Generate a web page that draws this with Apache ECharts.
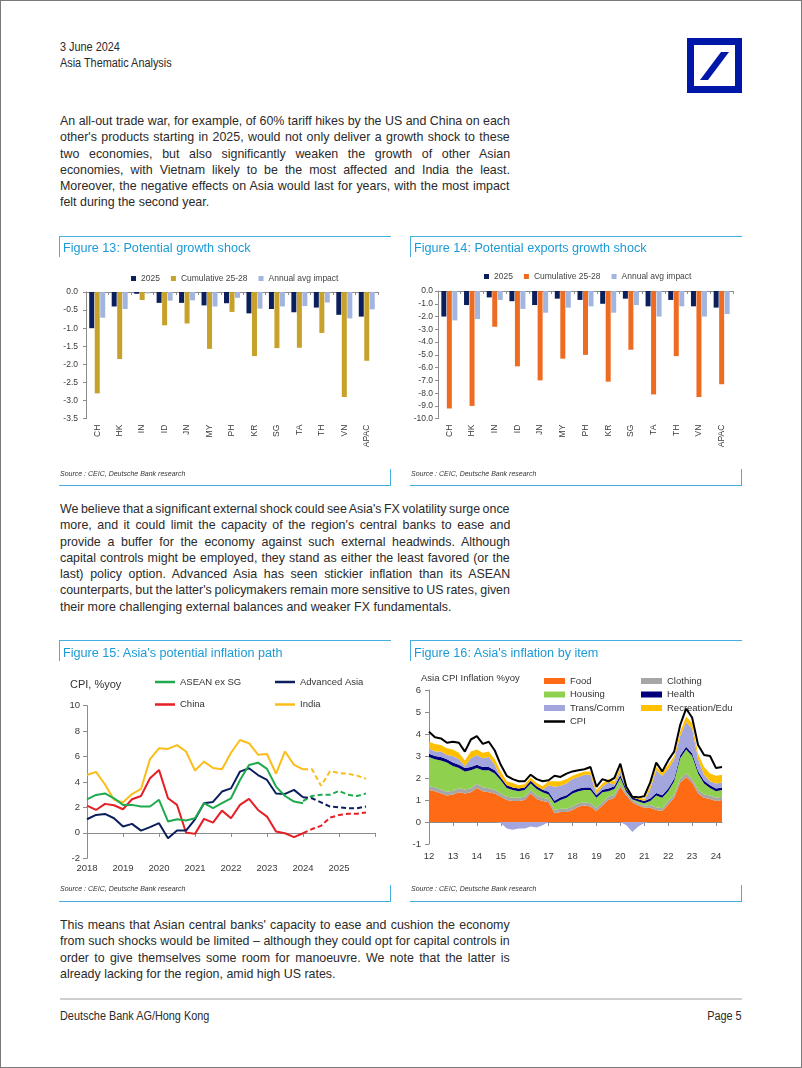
<!DOCTYPE html>
<html>
<head>
<meta charset="utf-8">
<script src="https://cdn.jsdelivr.net/npm/echarts@6/dist/echarts.min.js"></script>
<style>
html,body{margin:0;padding:0;background:#fff;}
#page{position:relative;width:802px;height:1068px;overflow:hidden;font-family:"Liberation Sans",Arial,sans-serif;color:#2a2a2a;}
#border{position:absolute;left:0;top:0;width:802px;height:1068px;box-sizing:border-box;border:1px solid #7a7a7a;}
.t{position:absolute;white-space:nowrap;font-size:12.5px;line-height:16px;transform:scaleX(0.87);transform-origin:0 0;}
.para{position:absolute;left:60px;width:450px;font-size:13px;}
.para .ln{height:16.25px;line-height:16.25px;white-space:nowrap;transform-origin:0 0;}
.ftitle{position:absolute;font-family:"Liberation Sans",Arial,sans-serif;font-size:12.65px;line-height:14px;color:#1b9ad6;white-space:nowrap;}
.src{position:absolute;font-family:"Liberation Sans",Arial,sans-serif;font-style:italic;font-size:7px;line-height:8px;color:#333;white-space:nowrap;}
.hl{position:absolute;border-top:1.5px solid #45aee0;height:0;}
.vl{position:absolute;border-left:1.5px solid #45aee0;width:0;}
.chart{position:absolute;}
</style>
</head>
<body>
<div id="page">
  <div class="t" style="left:60px;top:39px;">3 June 2024</div>
  <div class="t" style="left:60px;top:55px;">Asia Thematic Analysis</div>
  <svg style="position:absolute;left:687px;top:38px" width="55" height="55" viewBox="0 0 55 55">
    <rect x="0" y="0" width="55" height="55" fill="#0018a8"/>
    <rect x="7" y="7" width="41" height="41" fill="#fff"/>
    <polygon points="13,42 21,42 42,14 34,14" fill="#0018a8"/>
  </svg>

  <div class="para" style="top:113px;">
    <div class="ln" id="refline"><span>An all-out trade war, for example, of 60% tariff hikes by the US and China on each</span></div>
    <div class="ln"><span>other's products starting in 2025, would not only deliver a growth shock to these</span></div>
    <div class="ln"><span>two economies, but also significantly weaken the growth of other Asian</span></div>
    <div class="ln"><span>economies, with Vietnam likely to be the most affected and India the least.</span></div>
    <div class="ln"><span>Moreover, the negative effects on Asia would last for years, with the most impact</span></div>
    <div class="ln last"><span>felt during the second year.</span></div>
  </div>

  <div class="para" style="top:501px;">
    <div class="ln"><span>We believe that a significant external shock could see Asia's FX volatility surge once</span></div>
    <div class="ln"><span>more, and it could limit the capacity of the region's central banks to ease and</span></div>
    <div class="ln"><span>provide a buffer for the economy against such external headwinds. Although</span></div>
    <div class="ln"><span>capital controls might be employed, they stand as either the least favored (or the</span></div>
    <div class="ln"><span>last) policy option. Advanced Asia has seen stickier inflation than its ASEAN</span></div>
    <div class="ln"><span>counterparts, but the latter's policymakers remain more sensitive to US rates, given</span></div>
    <div class="ln last"><span>their more challenging external balances and weaker FX fundamentals.</span></div>
  </div>

  <div class="para" style="top:917px;">
    <div class="ln"><span>This means that Asian central banks' capacity to ease and cushion the economy</span></div>
    <div class="ln"><span>from such shocks would be limited – although they could opt for capital controls in</span></div>
    <div class="ln"><span>order to give themselves some room for manoeuvre. We note that the latter is</span></div>
    <div class="ln last"><span>already lacking for the region, amid high US rates.</span></div>
  </div>

  <div class="chart" id="c13" style="left:60px;top:236px;width:331px;height:249px;"></div>
  <div class="chart" id="c14" style="left:411px;top:236px;width:331px;height:249px;"></div>
  <div class="chart" id="c15" style="left:60px;top:641px;width:331px;height:260px;"></div>
  <div class="chart" id="c16" style="left:411px;top:641px;width:331px;height:260px;"></div>

  <div class="ftitle" style="left:63px;top:241px;">Figure 13: Potential growth shock</div>
  <div class="ftitle" style="left:414px;top:241px;">Figure 14: Potential exports growth shock</div>
  <div class="ftitle" style="left:63px;top:646px;">Figure 15: Asia's potential inflation path</div>
  <div class="ftitle" style="left:414px;top:646px;">Figure 16: Asia's inflation by item</div>

  <div class="src" style="left:60px;top:470px;">Source : CEIC, Deutsche Bank research</div>
  <div class="src" style="left:411px;top:470px;">Source : CEIC, Deutsche Bank research</div>
  <div class="src" style="left:60px;top:885px;">Source : CEIC, Deutsche Bank research</div>
  <div class="src" style="left:411px;top:885px;">Source : CEIC, Deutsche Bank research</div>

  <div id="boxes"></div>

  <div style="position:absolute;left:60px;top:998px;width:682px;height:2px;background:#cfcfcf;"></div>
  <div class="t" style="left:60px;top:1008px;">Deutsche Bank AG/Hong Kong</div>
  <div class="t" id="pg" style="left:742px;top:1008px;transform-origin:100% 0;">Page 5</div>
  <div id="border"></div>
</div>

<script>
// ---------------- DATA ----------------
const figCats = ['CH','HK','IN','ID','JN','MY','PH','KR','SG','TA','TH','VN','APAC'];
const barSeriesNames = ['2025','Cumulative 25-28','Annual avg impact'];
// Figure 13: growth shock
const growth2025 = [-1.0,-0.4,-0.05,-0.3,-0.3,-0.37,-0.31,-0.59,-0.47,-0.56,-0.43,-0.63,-0.68];
const growthCum  = [-2.8,-1.85,-0.22,-0.92,-0.87,-1.57,-0.55,-1.77,-1.55,-1.54,-1.13,-2.9,-1.9];
const growthAvg  = [-0.71,-0.47,-0.04,-0.24,-0.23,-0.4,-0.16,-0.46,-0.4,-0.39,-0.29,-0.73,-0.48];
// Figure 14: exports growth shock
const exports2025 = [-2.0,-1.1,-0.5,-0.8,-1.1,-0.6,-0.7,-1.0,-0.6,-1.2,-0.7,-1.2,-1.3];
const exportsCum  = [-9.2,-9.0,-2.8,-5.9,-7.0,-5.3,-5.0,-7.1,-4.6,-8.1,-5.1,-8.3,-7.3];
const exportsAvg  = [-2.3,-2.2,-0.7,-1.4,-1.7,-1.3,-1.2,-1.7,-1.1,-2.0,-1.2,-2.0,-1.8];

// Figure 15: quarterly CPI %yoy, 2018Q1..2024Q1 actual, 2024Q1..2025Q4 forecast
const inflStartYear = 2018;
const forecastStartIndex = 24;
const inflNames = ['ASEAN ex SG','Advanced Asia','China','India'];
const aseanActual = [2.64,2.98,3.1,2.72,2.2,2.2,2.07,2.07,2.6,0.9,1.07,0.97,1.15,2.33,1.94,2.33,2.72,4.16,5.34,5.52,5.03,3.64,2.9,2.46,2.33];
const aseanForecast = [2.5,2.9,3.0,3.0,3.3,3.0,2.9,3.1];
const advActual = [1.07,1.41,1.49,1.15,0.5,0.71,0.18,0.45,0.76,-0.42,0.18,0.18,1.07,2.33,2.43,3.25,3.5,4.82,5.08,4.55,4.16,3.1,3.06,3.38,2.8];
const advForecast = [2.8,2.72,2.4,2.07,2.0,1.94,1.94,2.07];
const chinaActual = [2.15,1.8,2.28,2.17,1.86,2.64,2.9,4.3,4.95,2.72,2.2,0.03,-0.08,1.1,0.8,1.75,1.15,2.2,2.67,1.8,1.28,0.1,-0.03,-0.34,-0.03];
const chinaForecast = [-0.03,0.3,0.55,1.2,1.4,1.5,1.5,1.6];
const indiaActual = [4.55,4.8,3.8,2.6,2.4,3.05,3.45,5.8,6.65,6.6,6.9,6.4,4.9,5.6,5.1,5.0,6.3,7.3,7.05,6.15,6.2,4.65,6.4,5.35,5.0];
const indiaForecast = [5.0,5.0,3.7,4.85,4.7,4.65,4.5,4.25];

// Figure 16: quarterly contributions, 2012Q1..2024Q2
const cpiStartYear = 2012;
const itemNames = ['Food','Clothing','Housing','Health','Trans/Comm','Recreation/Edu','CPI'];
const food = [1.45,1.4,1.3,1.2,1.25,1.35,1.3,1.35,1.55,1.4, 1.35,1.3,1.15,1.0,0.95,0.95,1.0,1.3,1.05,0.95, 0.9,0.4,0.45,0.45,0.55,0.7,0.75,0.7,0.5,0.75, 1.0,1.1,1.6,1.2,0.9,0.75,0.65,0.65,0.55,0.5, 0.8,1.1,1.8,2.05,1.8,1.3,1.1,1.05,0.95,1.0];
const clothing = [0.18,0.18,0.18,0.17,0.17,0.18,0.18,0.18,0.19,0.18, 0.18,0.17,0.15,0.15,0.15,0.15,0.15,0.15,0.15,0.15, 0.15,0.15,0.15,0.15,0.15,0.15,0.15,0.15,0.15,0.15, 0.15,0.15,0.12,0.12,0.1,0.1,0.1,0.12,0.12,0.12, 0.15,0.15,0.15,0.15,0.15,0.15,0.15,0.15,0.15,0.15];
const housing = [1.32,1.27,1.32,1.33,1.13,0.92,0.82,0.82,0.71,0.77, 0.82,0.73,0.6,0.4,0.35,0.3,0.3,0.3,0.3,0.25, 0.2,0.3,0.4,0.5,0.6,0.55,0.55,0.6,0.45,0.45, 0.25,0.25,0.28,0.05,0.03,0.08,0.1,0.18,0.53,0.48, 0.45,0.6,0.95,1.1,1.05,0.75,0.5,0.35,0.3,0.3];
const health = [0.15,0.15,0.15,0.15,0.15,0.15,0.15,0.15,0.15,0.15, 0.15,0.15,0.12,0.12,0.12,0.12,0.12,0.12,0.12,0.12, 0.12,0.12,0.12,0.12,0.12,0.12,0.12,0.12,0.12,0.12, 0.12,0.12,0.12,0.12,0.08,0.1,0.1,0.12,0.12,0.12, 0.12,0.12,0.12,0.12,0.12,0.12,0.12,0.12,0.12,0.12];
const transComm = [0.25,0.2,0.25,0.2,0.3,0.25,0.1,0.4,0.45,0.4, 0.45,0.25,-0.05,-0.3,-0.35,-0.3,-0.3,-0.2,-0.25,-0.15, 0.3,0.63,0.53,0.53,0.53,0.53,0.58,0.58,0.08,0.13, 0.28,0.08,0.18,-0.15,-0.45,-0.2,-0.05,0.43,1.03,0.88, 0.88,0.88,0.88,1.13,1.13,0.53,0.28,0.18,0.23,0.23];
const recEdu = [0.3,0.35,0.3,0.3,0.3,0.3,0.25,0.3,0.25,0.25, 0.25,0.25,0.28,0.18,0.2,0.15,0.15,0.15,0.15,0.15, 0.18,0.25,0.2,0.2,0.15,0.15,0.15,0.15,0.15,0.15, 0.15,0.15,0.15,0.1,0.05,0.08,0.1,0.15,0.15,0.15, 0.2,0.15,0.2,0.25,0.25,0.25,0.35,0.35,0.35,0.35];
const cpi = [4.1,3.85,3.8,3.6,3.65,3.6,3.2,3.75,3.9,3.55, 3.65,3.25,2.6,2.1,1.95,1.85,1.85,2.15,1.95,1.85, 1.9,2.1,2.05,2.2,2.3,2.35,2.4,2.5,1.6,1.95, 1.85,2.0,2.65,1.6,1.15,1.12,1.17,1.8,2.7,2.3, 2.8,3.2,4.4,5.15,4.75,3.5,3.05,3.0,2.45,2.5];

// ---------------- LAYOUT HELPERS ----------------
// horizontal scale chosen so that the first (normally spaced) line fills the 450px column
const refW = document.querySelector('#refline span').offsetWidth;
const SX = Math.min(1, 450 / refW);
document.querySelectorAll('.para .ln').forEach(d => {
  d.style.width = (450 / SX) + 'px';
  d.style.transform = 'scaleX(' + SX + ')';
  if (d.classList.contains('last')) return;
  const sp = d.firstElementChild;
  const w = sp.offsetWidth;
  const n = (sp.textContent.match(/ /g) || []).length;
  if (n > 0) d.style.wordSpacing = ((450 / SX - w) / n) + 'px';
});
const pg = document.getElementById('pg');
pg.style.left = (742 - pg.offsetWidth) + 'px';

const boxes = [[59,391,236,485],[410,742,236,485],[59,391,640,901],[410,742,640,901]];
const bx = document.getElementById('boxes');
boxes.forEach(([x1,x2,yt,yb]) => {
  bx.insertAdjacentHTML('beforeend',
    `<div class="hl" style="left:${x1}px;top:${yt}px;width:${x2-x1}px"></div>` +
    `<div class="vl" style="left:${x1}px;top:${yt}px;height:21px"></div>` +
    `<div class="hl" style="left:${x1}px;top:${yb}px;width:${x2-x1}px"></div>` +
    `<div class="vl" style="left:${x2-1.5}px;top:${yb-16}px;height:16px"></div>`);
});

// ---------------- CHARTS ----------------
const AX = '#8c8c8c', LBL = '#3a3a3a';
const FF = '"Liberation Sans", Arial, sans-serif';
const NAVY = '#0b1f5c', GOLD = '#c7a12a', LIGHT = '#a2b5df', ORANGE = '#ee6c22';

function barChart(id, cfg) {
  const ch = echarts.init(document.getElementById(id), null, {renderer:'canvas'});
  ch.setOption({
    animation:false,
    textStyle:{fontFamily:FF},
    legend:{left:cfg.legendLeft, top:cfg.legendTop, padding:0, icon:'rect', itemWidth:5, itemHeight:5, itemGap:11,
      textStyle:{fontSize:8.5, color:'#444', fontFamily:FF}, data:barSeriesNames},
    grid:{left:cfg.grid[0], top:cfg.grid[1], width:cfg.grid[2], height:cfg.grid[3], containLabel:false, outerBoundsMode:'none'},
    xAxis:{type:'category', data:figCats,
      axisLine:{onZero:true, lineStyle:{color:AX, width:1}},
      axisTick:{show:true, length:3, lineStyle:{color:AX}},
      axisLabel:{rotate:90, interval:0, margin:cfg.labelMargin, fontSize:8.5, color:LBL, fontFamily:FF}},
    yAxis:{type:'value', min:cfg.min, max:0, interval:cfg.interval,
      axisLine:{show:true, lineStyle:{color:AX}},
      axisTick:{show:true, length:3, lineStyle:{color:AX}},
      splitLine:{show:false},
      axisLabel:{formatter:v => (Math.abs(v) < 1e-9 ? 0 : v).toFixed(1), fontSize:8.5, color:LBL, margin:cfg.yMargin, fontFamily:FF}},
    series: cfg.series.map((d, i) => ({name:barSeriesNames[i], type:'bar', data:d, barWidth:5, barGap:'10%',
      itemStyle:{color:cfg.colors[i]}}))
  });
}

barChart('c13', {legendLeft:71, legendTop:38, grid:[26,56,292,126.7], labelMargin:6, min:-3.5, interval:0.5, yMargin:8,
  series:[growth2025, growthCum, growthAvg], colors:[NAVY, GOLD, LIGHT]});
barChart('c14', {legendLeft:73, legendTop:36, grid:[27,55,295,127.7], labelMargin:6, min:-10, interval:1, yMargin:5,
  series:[exports2025, exportsCum, exportsAvg], colors:[NAVY, ORANGE, LIGHT]});

// Figure 15
(function(){
  const ch = echarts.init(document.getElementById('c15'));
  const cols = ['#1faa4d', '#0b1f5c', '#e61e25', '#fbbd1a'];
  const act = [aseanActual, advActual, chinaActual, indiaActual];
  const fc = [aseanForecast, advForecast, chinaForecast, indiaForecast];
  const toPts = (arr, off) => arr.map((v, i) => [inflStartYear + (i + off) / 4, v]);
  const legPos = [[95,36],[215,36],[95,58.5],[215,58.5]];
  const series = [];
  act.forEach((a, k) => series.push({name:inflNames[k], type:'line', data:toPts(a, 0), symbol:'none',
    lineStyle:{color:cols[k], width:2}, itemStyle:{color:cols[k]}, z:10 - k}));
  fc.forEach((a, k) => series.push({name:inflNames[k] + ' forecast', type:'line', data:toPts(a, forecastStartIndex), symbol:'none',
    lineStyle:{color:cols[k], width:2, type:[5,3]}, itemStyle:{color:cols[k]}, z:5}));
  ch.setOption({
    animation:false,
    textStyle:{fontFamily:FF},
    legend: inflNames.map((n, k) => ({data:[n], left:legPos[k][0], top:legPos[k][1], padding:0, icon:'rect',
      itemWidth:20, itemHeight:2.5, textStyle:{fontSize:9.5, color:'#333', fontFamily:FF}})),
    graphic:[{type:'text', left:10, top:38, style:{text:'CPI, %yoy', fontSize:11, fill:'#333', fontFamily:FF}}],
    grid:{left:27, top:64.7, width:288, height:152.6, containLabel:false, outerBoundsMode:'none'},
    xAxis:{type:'value', min:2018, max:2026, interval:1,
      axisLine:{onZero:true, lineStyle:{color:AX}},
      axisTick:{show:true, length:4, lineStyle:{color:AX}},
      splitLine:{show:false},
      axisLabel:{margin:5, fontSize:9.5, color:LBL, fontFamily:FF, formatter:v => v >= 2026 ? '' : String(v)}},
    yAxis:{type:'value', min:-2, max:10, interval:2,
      axisLine:{show:true, lineStyle:{color:AX}},
      axisTick:{show:true, length:4, lineStyle:{color:AX}},
      splitLine:{show:false},
      axisLabel:{fontSize:9.5, color:LBL, margin:7, fontFamily:FF}},
    series
  });
})();

// Figure 16
(function(){
  const ch = echarts.init(document.getElementById('c16'));
  const cols = {Food:'#ff6a14', Clothing:'#a6a6a6', Housing:'#8fd14f', Health:'#00007a', 'Trans/Comm':'#a3a6dc', 'Recreation/Edu':'#ffc000', CPI:'#000000'};
  const quarters = food.map((_, i) => (cpiStartYear + Math.floor(i / 4)) + 'Q' + (i % 4 + 1));
  const area = (name, data, stack) => ({name, type:'line', data, stack, symbol:'none', showSymbol:false,
    lineStyle:{width:0}, areaStyle:{color:cols[name], opacity:1}, itemStyle:{color:cols[name]}});
  const transPos = transComm.map(v => Math.max(v, 0));
  const transNeg = transComm.map(v => Math.min(v, 0));
  const series = [
    area('Food', food, 'a'),
    area('Clothing', clothing, 'a'),
    area('Housing', housing, 'a'),
    area('Health', health, 'a'),
    area('Trans/Comm', transPos, 'a'),
    area('Trans/Comm', transNeg, 'neg'),
    area('Recreation/Edu', recEdu, 'a'),
    {name:'CPI', type:'line', data:cpi, symbol:'none', showSymbol:false, lineStyle:{color:'#000', width:2}, itemStyle:{color:'#000'}, z:10}
  ];
  const legPos = {Food:[133,35], Housing:[133,48.5], 'Trans/Comm':[133,62], CPI:[133,75.5],
    Clothing:[230,35], Health:[230,48.5], 'Recreation/Edu':[230,62]};
  const yearStart = (idx) => idx % 4 === 0;
  ch.setOption({
    animation:false,
    textStyle:{fontFamily:FF},
    legend: itemNames.map(n => ({data:[n], left:legPos[n][0], top:legPos[n][1], padding:0, icon:'rect',
      itemWidth:21, itemHeight:n === 'CPI' ? 2.5 : 6, textStyle:{fontSize:9.5, color:'#333', fontFamily:FF}})),
    graphic:[{type:'text', left:10, top:32, style:{text:'Asia CPI Inflation %yoy', fontSize:9.5, fill:'#333', fontFamily:FF}}],
    grid:{left:18, top:49, width:293, height:154, containLabel:false, outerBoundsMode:'none'},
    xAxis:{type:'category', data:quarters, boundaryGap:false,
      axisLine:{onZero:true, lineStyle:{color:AX}},
      axisTick:{show:true, length:4, interval:yearStart, lineStyle:{color:AX}},
      splitLine:{show:false},
      axisLabel:{margin:7, fontSize:9.5, color:LBL, fontFamily:FF, interval:yearStart, formatter:v => v.slice(2, 4)}},
    yAxis:{type:'value', min:-1, max:6, interval:1,
      axisLine:{show:true, lineStyle:{color:AX}},
      axisTick:{show:true, length:4, lineStyle:{color:AX}},
      splitLine:{show:false},
      axisLabel:{fontSize:9.5, color:LBL, margin:8, fontFamily:FF}},
    series
  });
})();
</script>
</body>
</html>
